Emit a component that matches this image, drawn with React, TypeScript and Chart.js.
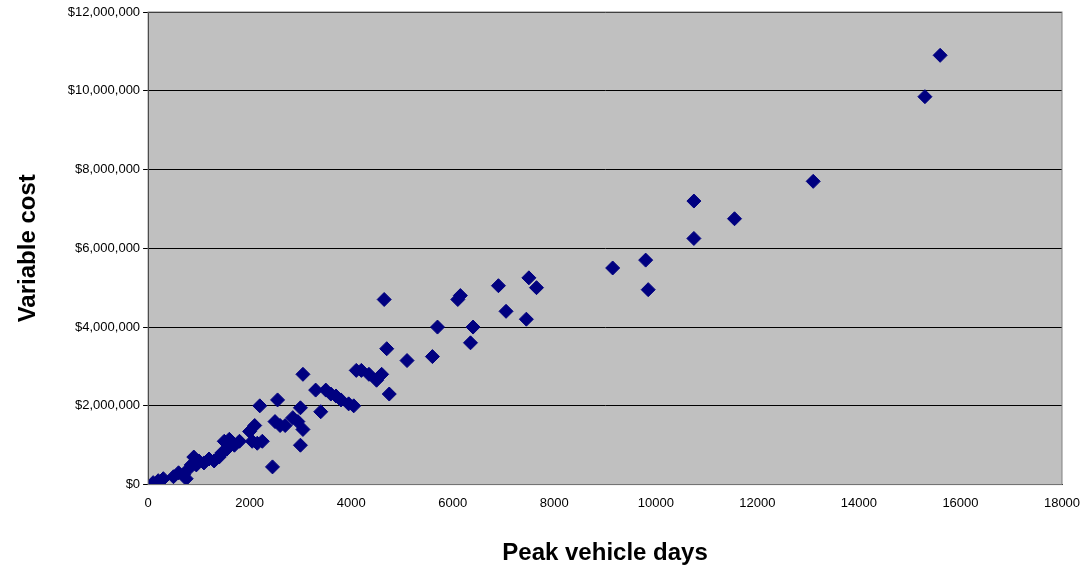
import React, { useEffect, useRef } from "react";
import { Chart, registerables } from "chart.js";
Chart.register(...registerables);

const xDays = [100,200,300,500,600,700,750,800,850,900,950,1000,1100,1200,1300,1400,1450,1500,1550,1600,1700,1800,2000,2050,2100,2150,2200,2250,2450,2500,2550,2600,2700,2850,2950,3000,3000,3050,3050,3300,3400,3500,3600,3700,3800,3950,4050,4100,4200,4350,4500,4600,4650,4700,4750,5100,5600,5700,6100,6150,6350,6400,6900,7050,7450,7500,7650,9150,9800,9850,10750,10750,11550,13100,15300,15600];
const yCost = [50e3,100e3,150e3,200e3,300e3,250e3,150e3,400e3,500e3,700e3,500e3,600e3,550e3,650e3,600e3,700e3,800e3,1.1e6,900e3,1.15e6,1.0e6,1.1e6,1.35e6,1.1e6,1.5e6,1.05e6,2.0e6,1.1e6,0.45e6,1.6e6,2.15e6,1.5e6,1.5e6,1.7e6,1.6e6,1.95e6,1.0e6,1.4e6,2.8e6,2.4e6,1.85e6,2.4e6,2.3e6,2.25e6,2.15e6,2.05e6,2.0e6,2.9e6,2.9e6,2.8e6,2.65e6,2.8e6,4.7e6,3.45e6,2.3e6,3.15e6,3.25e6,4.0e6,4.7e6,4.8e6,3.6e6,4.0e6,5.05e6,4.4e6,4.2e6,5.25e6,5.0e6,5.5e6,5.7e6,4.95e6,7.2e6,6.25e6,6.75e6,7.7e6,9.85e6,10.9e6];

const bgPlugin = {
  id: "plotBg",
  beforeDraw(chart: any) {
    const { ctx, chartArea: a } = chart;
    ctx.save();
    ctx.fillStyle = "#C0C0C0";
    ctx.fillRect(a.left, a.top, a.right - a.left, a.bottom - a.top);
    ctx.restore();
  },
  afterDraw(chart: any) {
    const { ctx, chartArea: a } = chart;
    ctx.save();
    ctx.strokeStyle = "#808080";
    ctx.lineWidth = 1;
    ctx.strokeRect(a.left, a.top, a.right - a.left, a.bottom - a.top);
    ctx.restore();
  },
};

export default function App() {
  const ref = useRef<HTMLCanvasElement>(null);
  useEffect(() => {
    document.body.style.margin = "0";
    const chart = new Chart(ref.current!, {
      type: "scatter",
      data: {
        datasets: [{
          data: xDays.map((x, i) => ({ x, y: yCost[i] })),
          pointStyle: "rectRot",
          pointRadius: 7,
          backgroundColor: "#000080",
          borderColor: "#000080",
        }],
      },
      options: {
        animation: false,
        responsive: false,
        layout: { padding: { top: 12, right: 24, left: 10, bottom: 0 } },
        plugins: { legend: { display: false }, tooltip: { enabled: false } },
        scales: {
          x: {
            min: 0, max: 18000,
            ticks: { stepSize: 2000, color: "#000", font: { family: "Arial", size: 13 }, maxRotation: 0, callback: (v: any) => String(v) },
            grid: { display: false },
            border: { color: "#000" },
            title: { display: true, text: "Peak vehicle days", color: "#000", font: { family: "Arial", size: 24, weight: "bold" }, padding: { top: 25, bottom: 0 } },
          },
          y: {
            min: 0, max: 12000000,
            ticks: {
              stepSize: 2000000, color: "#000", font: { family: "Arial", size: 13 },
              callback: (v: any) => "$" + Number(v).toLocaleString("en-US"),
            },
            grid: { color: "#000", drawTicks: true, tickLength: 5 },
            border: { color: "#000" },
            title: { display: true, text: "Variable cost", color: "#000", font: { family: "Arial", size: 24, weight: "bold" }, padding: { bottom: 22 } },
          },
        },
      },
      plugins: [bgPlugin],
    });
    return () => chart.destroy();
  }, []);
  return <canvas ref={ref} width={1086} height={568} />;
}
